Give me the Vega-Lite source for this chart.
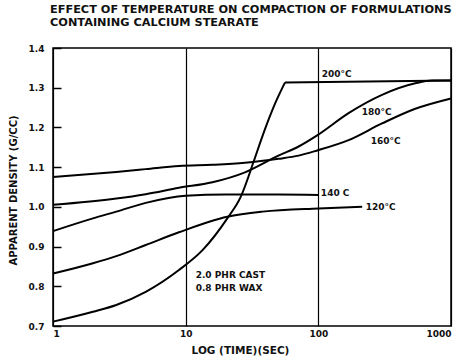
{
  "$schema": "https://vega.github.io/schema/vega-lite/v6.json",
  "width": 398,
  "height": 278,
  "autosize": {"type": "none"},
  "padding": {"left": 53, "top": 48, "right": 3, "bottom": 36},
  "background": "white",
  "config": {"view": {"stroke": "black", "strokeWidth": 1.5}, "font": "DejaVu Sans"},
  "title": {
    "text": ["EFFECT OF TEMPERATURE ON COMPACTION OF FORMULATIONS", "CONTAINING CALCIUM STEARATE"],
    "anchor": "start", "frame": "group", "fontSize": 11.3, "fontWeight": "bold",
    "font": "DejaVu Sans", "color": "#111", "offset": 16, "dx": -3, "lineHeight": 13
  },
  "datasets": {
    "curves": [
      {"series": "200", "t": 1, "v": 0.711},
      {"series": "200", "t": 2, "v": 0.736},
      {"series": "200", "t": 3, "v": 0.753},
      {"series": "200", "t": 5, "v": 0.786},
      {"series": "200", "t": 8.9, "v": 0.841},
      {"series": "200", "t": 13.4, "v": 0.891},
      {"series": "200", "t": 20.6, "v": 0.971},
      {"series": "200", "t": 26, "v": 1.025},
      {"series": "200", "t": 32.7, "v": 1.116},
      {"series": "200", "t": 37.8, "v": 1.177},
      {"series": "200", "t": 47.6, "v": 1.263},
      {"series": "200", "t": 56, "v": 1.313},
      {"series": "200flat", "t": 56, "v": 1.313},
      {"series": "200flat", "t": 1000, "v": 1.318},
      {"series": "180", "t": 1, "v": 1.005},
      {"series": "180", "t": 3, "v": 1.021},
      {"series": "180", "t": 5, "v": 1.032},
      {"series": "180", "t": 8.9, "v": 1.048},
      {"series": "180", "t": 15.9, "v": 1.062},
      {"series": "180", "t": 28, "v": 1.087},
      {"series": "180", "t": 50, "v": 1.129},
      {"series": "180", "t": 71, "v": 1.152},
      {"series": "180", "t": 98, "v": 1.18},
      {"series": "180", "t": 169, "v": 1.236},
      {"series": "180", "t": 302, "v": 1.282},
      {"series": "180", "t": 538, "v": 1.311},
      {"series": "180", "t": 717, "v": 1.318},
      {"series": "180", "t": 1000, "v": 1.318},
      {"series": "160", "t": 1, "v": 1.075},
      {"series": "160", "t": 3, "v": 1.088},
      {"series": "160", "t": 5, "v": 1.095},
      {"series": "160", "t": 8.9, "v": 1.103},
      {"series": "160", "t": 15.9, "v": 1.106},
      {"series": "160", "t": 28, "v": 1.111},
      {"series": "160", "t": 50, "v": 1.121},
      {"series": "160", "t": 71, "v": 1.129},
      {"series": "160", "t": 98, "v": 1.142},
      {"series": "160", "t": 169, "v": 1.168},
      {"series": "160", "t": 302, "v": 1.21},
      {"series": "160", "t": 538, "v": 1.247},
      {"series": "160", "t": 1000, "v": 1.273},
      {"series": "140", "t": 1, "v": 0.939},
      {"series": "140", "t": 2, "v": 0.971},
      {"series": "140", "t": 3, "v": 0.988},
      {"series": "140", "t": 5, "v": 1.01},
      {"series": "140", "t": 10, "v": 1.028},
      {"series": "140", "t": 20, "v": 1.031},
      {"series": "140", "t": 50, "v": 1.031},
      {"series": "140", "t": 100, "v": 1.03},
      {"series": "120", "t": 1, "v": 0.832},
      {"series": "120", "t": 2, "v": 0.858},
      {"series": "120", "t": 3, "v": 0.876},
      {"series": "120", "t": 5, "v": 0.904},
      {"series": "120", "t": 8.9, "v": 0.936},
      {"series": "120", "t": 20.6, "v": 0.975},
      {"series": "120", "t": 38, "v": 0.988},
      {"series": "120", "t": 100, "v": 0.996},
      {"series": "120", "t": 214, "v": 1.0}
    ],
    "labels": [
      {"label": "200°C", "t": 106, "v": 1.335},
      {"label": "180°C", "t": 212, "v": 1.238},
      {"label": "160°C", "t": 248, "v": 1.167},
      {"label": "140 C", "t": 104.5, "v": 1.034},
      {"label": "120°C", "t": 228, "v": 1.0},
      {"label": "2.0 PHR  CAST", "t": 11.9, "v": 0.828},
      {"label": "0.8 PHR  WAX", "t": 11.9, "v": 0.796}
    ]
  },
  "encoding": {
    "x": {
      "field": "t", "type": "quantitative",
      "scale": {"type": "log", "domain": [1, 1000]},
      "axis": {
        "values": [1, 10, 100, 1000], "format": "d", "grid": true, "gridColor": "black",
        "gridWidth": 1.2, "gridOpacity": 1, "ticks": false, "domain": false,
        "labelFlush": true, "labelPadding": 3, "labelFontSize": 9, "labelFontWeight": "bold",
        "labelColor": "#111", "title": "LOG (TIME)(SEC)", "titleFontSize": 10.5,
        "titleFontWeight": "bold", "titleColor": "#111", "titleX": 187, "titleY": 24,
        "titleBaseline": "middle"
      }
    },
    "y": {
      "field": "v", "type": "quantitative",
      "scale": {"domain": [0.7, 1.4], "nice": false, "zero": false},
      "axis": {
        "values": [0.7, 0.8, 0.9, 1.0, 1.1, 1.2, 1.3, 1.4], "format": ".1f", "grid": false,
        "domain": false, "tickSize": -8, "tickColor": "black", "tickWidth": 1.5,
        "labelOverlap": false, "labelBound": false, "labelFlush": false, "labelPadding": 17,
        "labelFontSize": 9, "labelFontWeight": "bold", "labelColor": "#111",
        "title": "APPARENT DENSITY  (G/CC)", "titleFontSize": 10, "titleFontWeight": "bold",
        "titleColor": "#111", "titleX": -40, "titleY": 142, "titleAlign": "center",
        "titleBaseline": "middle", "titleAngle": -90
      }
    }
  },
  "layer": [
    {
      "data": {"name": "curves"},
      "mark": {"type": "line", "interpolate": "monotone", "color": "black", "strokeWidth": 2},
      "encoding": {"detail": {"field": "series"}}
    },
    {
      "data": {"name": "labels"},
      "mark": {"type": "text", "align": "left", "baseline": "middle", "fontWeight": "bold", "fontSize": 9, "color": "#111", "font": "DejaVu Sans"},
      "encoding": {"text": {"field": "label"}}
    }
  ]
}
